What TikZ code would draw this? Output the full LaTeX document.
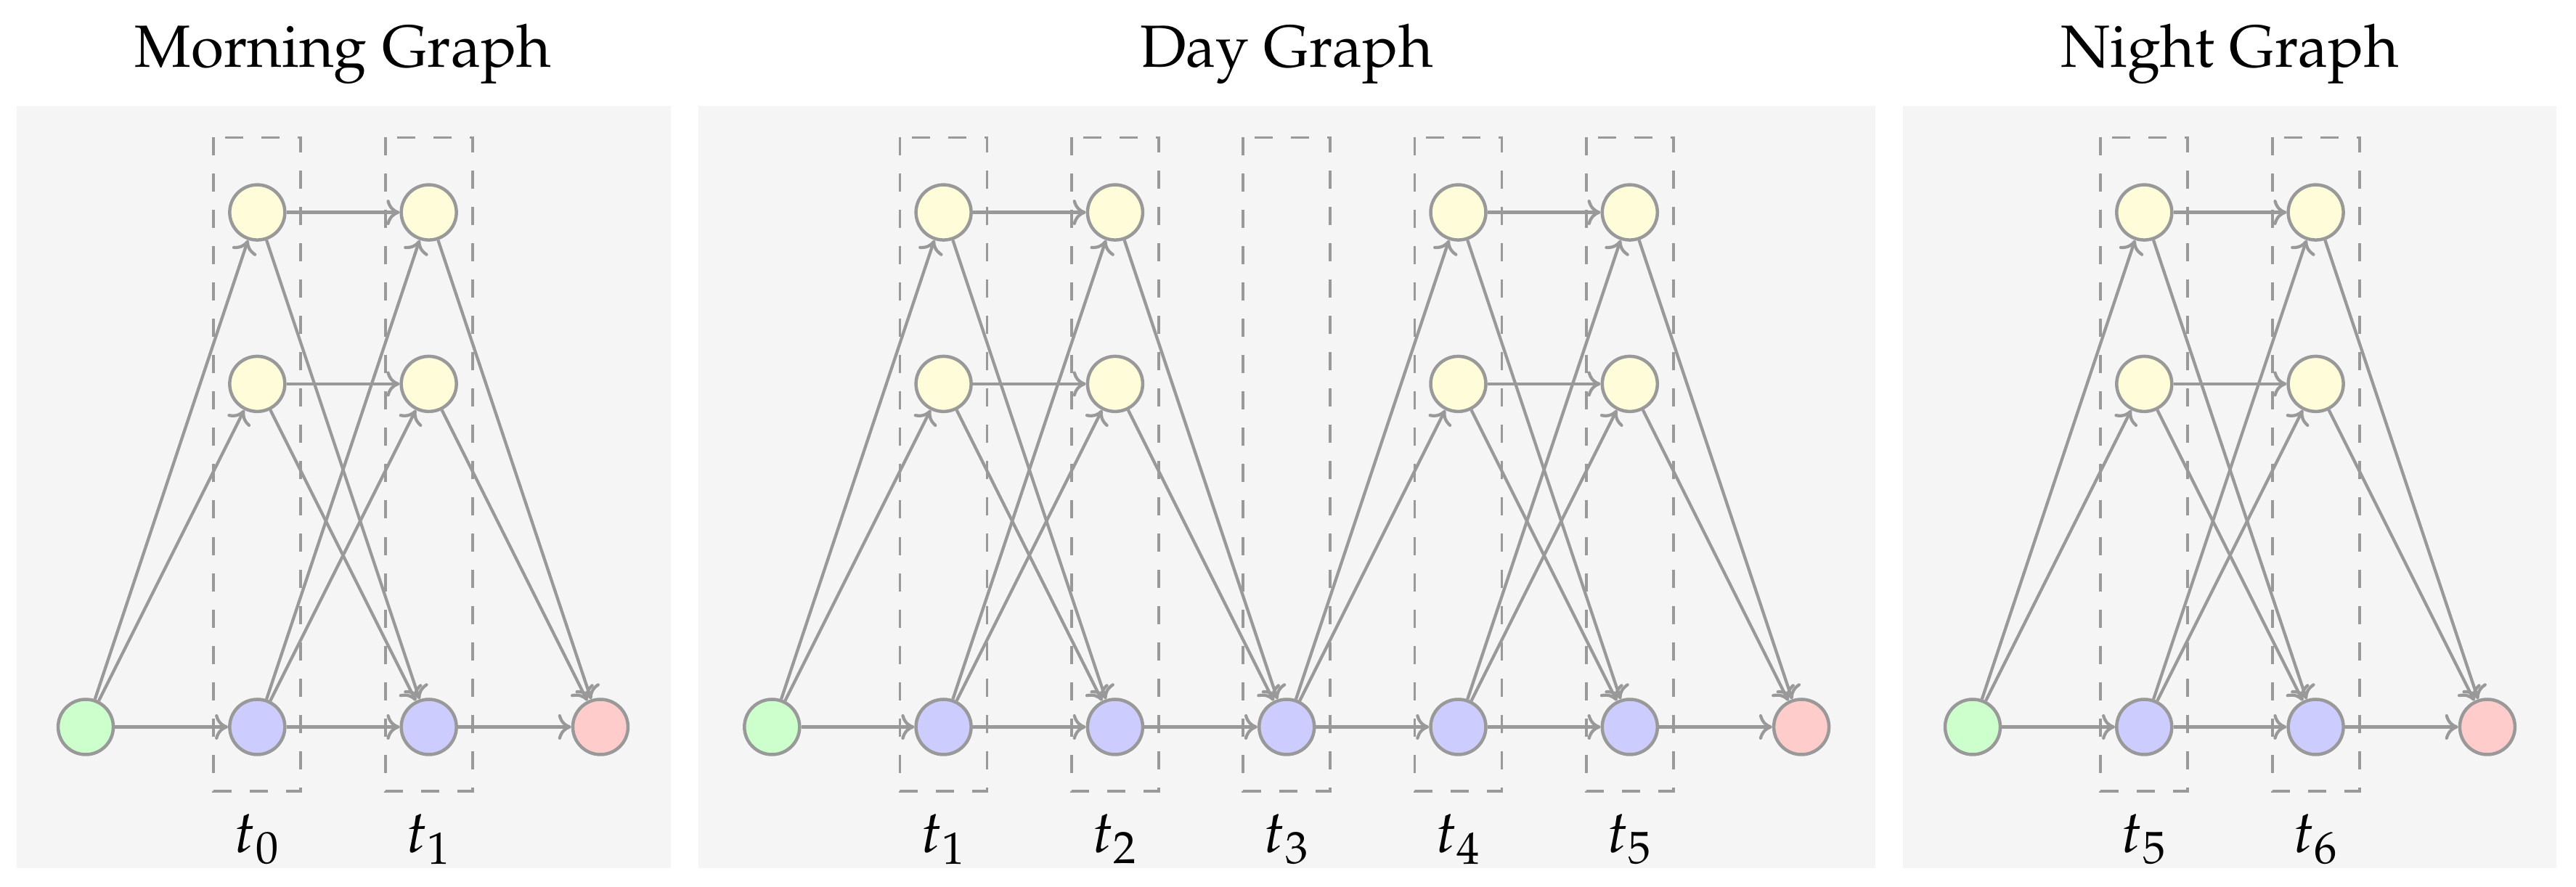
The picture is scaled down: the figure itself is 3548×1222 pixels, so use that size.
\documentclass[tikz,border=0pt]{standalone}
\usepackage[T1]{fontenc}
\usepackage{mathpazo}
\usetikzlibrary{arrows.meta}
\definecolor{bgc}{HTML}{F5F5F5}
\definecolor{edgec}{HTML}{999999}
\definecolor{yelc}{HTML}{FFFCD9}
\definecolor{bluc}{HTML}{CCCCFF}
\definecolor{grnc}{HTML}{CCFFCC}
\definecolor{redc}{HTML}{FFCCCC}
\newcommand\colnodes[2]{%
  \node[yv] (#1A) at (#2,292.6) {};
  \node[yv] (#1B) at (#2,528.9) {};
  \node[bv] (#1C) at (#2,1001.5) {};}
\newcommand\stepE[2]{%
  \draw[edge] (#1A) -- (#2A);
  \draw[edge] (#1A) -- (#2C);
  \draw[edge] (#1B) -- (#2B);
  \draw[edge] (#1B) -- (#2C);
  \draw[edge] (#1C) -- (#2C);
  \draw[edge] (#1C) -- (#2A);
  \draw[edge] (#1C) -- (#2B);}
\newcommand\fanout[2]{%
  \draw[edge] (#1) -- (#2A);
  \draw[edge] (#1) -- (#2B);
  \draw[edge] (#1) -- (#2C);}
\newcommand\fanin[2]{%
  \draw[edge] (#1A) -- (#2);
  \draw[edge] (#1B) -- (#2);
  \draw[edge] (#1C) -- (#2);}
\newcommand\tbox[1]{\draw[tboxs] (#1-60,189.5) rectangle (#1+60,1090);}
\begin{document}
\begin{tikzpicture}[x=0.2pt,y=-0.2pt,
  vtx/.style={circle,draw=edgec,line width=0.9pt,minimum size=15.2pt,inner sep=0pt},
  yv/.style={vtx,fill=yelc},
  bv/.style={vtx,fill=bluc},
  gv/.style={vtx,fill=grnc},
  rv/.style={vtx,fill=redc},
  edge/.style={draw=edgec,line width=0.85pt,-{To[length=3.6pt,width=7pt]}},
  tboxs/.style={draw=edgec,line width=0.75pt,dash pattern=on 5pt off 5pt},
  ttl/.style={anchor=base,inner sep=0pt,font=\fontsize{16.4}{20}\selectfont},
  lbl/.style={anchor=base,inner sep=0pt,font=\fontsize{16.4}{20}\selectfont}]
\fill[white] (0,0) rectangle (3548,1222);
\useasboundingbox (0,0) rectangle (3548,1222);
% panels
\fill[bgc] (23,146) rectangle (924,1196.5);
\fill[bgc] (962,146) rectangle (2583,1196.5);
\fill[bgc] (2621,146) rectangle (3521,1196.5);
% titles
\node[ttl] (tm) at (472.5,92.5) {Morning Graph};
\node[ttl] (td) at (1772.2,92.5) {Day Graph};
\node[ttl] (tn) at (3071,92.5) {Night Graph};
% boxes
\tbox{354.35}\tbox{590.65}
\tbox{1299.6}\tbox{1535.9}\tbox{1772.2}\tbox{2008.5}\tbox{2244.8}
\tbox{2953.3}\tbox{3189.6}
% labels
\node[lbl] (lm0) at (354.35,1175) {$t_0$};
\node[lbl] (lm1) at (590.65,1175) {$t_1$};
\node[lbl] (ld1) at (1299.6,1175) {$t_1$};
\node[lbl] (ld2) at (1535.9,1175) {$t_2$};
\node[lbl] (ld3) at (1772.2,1175) {$t_3$};
\node[lbl] (ld4) at (2008.5,1175) {$t_4$};
\node[lbl] (ld5) at (2244.8,1175) {$t_5$};
\node[lbl] (ln5) at (2953.3,1175) {$t_5$};
\node[lbl] (ln6) at (3189.6,1175) {$t_6$};
% morning nodes
\node[gv] (mG) at (118.05,1001.5) {};
\colnodes{m1}{354.35}
\colnodes{m2}{590.65}
\node[rv] (mR) at (826.95,1001.5) {};
% day nodes
\node[gv] (dG) at (1063.3,1001.5) {};
\colnodes{d1}{1299.6}
\colnodes{d2}{1535.9}
\node[bv] (d3C) at (1772.2,1001.5) {};
\colnodes{d4}{2008.5}
\colnodes{d5}{2244.8}
\node[rv] (dR) at (2481.1,1001.5) {};
% night nodes
\node[gv] (nG) at (2717,1001.5) {};
\colnodes{n1}{2953.3}
\colnodes{n2}{3189.6}
\node[rv] (nR) at (3425.9,1001.5) {};
% edges
\fanout{mG}{m1}
\stepE{m1}{m2}
\fanin{m2}{mR}
\fanout{dG}{d1}
\stepE{d1}{d2}
\fanin{d2}{d3C}
\fanout{d3C}{d4}
\stepE{d4}{d5}
\fanin{d5}{dR}
\fanout{nG}{n1}
\stepE{n1}{n2}
\fanin{n2}{nR}
\end{tikzpicture}
\end{document}
